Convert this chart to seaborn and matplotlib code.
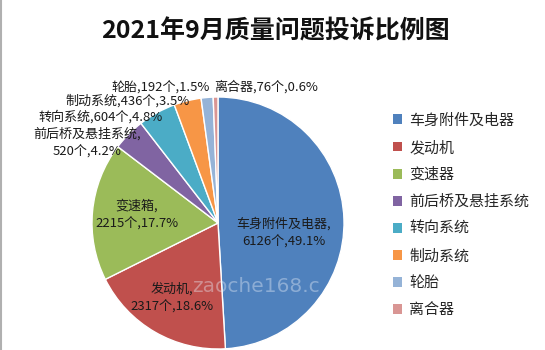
import matplotlib
matplotlib.use("Agg")
import matplotlib.pyplot as plt
import seaborn as sns
from matplotlib.patches import Patch

# ---- data ----
legend_names = ["车身附件及电器", "发动机", "变速器", "前后桥及悬挂系统", "转向系统", "制动系统", "轮胎", "离合器"]
slice_names = ["车身附件及电器", "发动机", "变速箱", "前后桥及悬挂系统", "转向系统", "制动系统", "轮胎", "离合器"]
counts = [6126, 2317, 2215, 520, 604, 436, 192, 76]
title = "2021年9月质量问题投诉比例图"

colors = ["#4F81BD", "#C0504D", "#9BBB59", "#8064A2", "#4BACC6", "#F79646", "#95B3D7", "#D99694"]

sns.set_theme(style="white")
plt.rcParams['font.family'] = ['Noto Sans CJK SC', 'DejaVu Sans']

W, H = 545, 350
fig = plt.figure(figsize=(W / 100, H / 100), dpi=100)
fig.patch.set_facecolor("white")

# pie axes: center (218,223) px, radius 126 px
cx, cy, r = 218, 223, 126
ax = fig.add_axes([(cx - r) / W, (H - cy - r) / H, 2 * r / W, 2 * r / H])
palette = sns.color_palette(colors)
wedges, _ = ax.pie(counts, colors=palette, startangle=90, counterclock=False,
                   wedgeprops=dict(edgecolor="white", linewidth=1.0))
ax.set_xlim(-1, 1)
ax.set_ylim(-1, 1)
ax.set_aspect("equal")
ax.axis("off")
for w in wedges:
    w.set_clip_on(False)

total = sum(counts)
pcts = [c / total * 100 for c in counts]

def px(x, y):
    return x / W, 1 - y / H

# watermark (starts right after the engine label)
fx, fy = px(192, 286)
fig.text(fx, fy, "zaoche168.c", ha="left", va="center", fontsize=14.5,
         color="#e8eef8", alpha=0.4, family=["DejaVu Sans"])

# label layout: (x_px, y_px, two_line)
label_pos = [(284, 232, True), (172, 297, True), (137, 214, True), (87, 142, True),
             (101, 117, False), (128, 101, False), (161, 87, False), (266, 87, False)]
line_gap = 17
for name, c, p, (lx, ly, two) in zip(slice_names, counts, pcts, label_pos):
    if two:
        lines = [f"{name},", f"{c}个,{p:.1f}%"]
    else:
        lines = [f"{name},{c}个,{p:.1f}%"]
    n = len(lines)
    for i, line in enumerate(lines):
        yy = ly + (i - (n - 1) / 2) * line_gap
        fx, fy = px(lx, yy)
        fig.text(fx, fy, line, ha="center", va="center", fontsize=9.4,
                 color="#1a1a1a")

# title
fx, fy = px(275, 31)
fig.text(fx, fy, title, ha="center", va="center", fontsize=18,
         fontweight="bold", color="#111111")

# legend
handles = [Patch(facecolor=c, edgecolor="none") for c in palette]
fx, fy = px(393, 113)
fig.legend(handles, legend_names, loc="upper left", bbox_to_anchor=(fx, fy),
           frameon=False, fontsize=10.8, handlelength=0.6, handleheight=0.6,
           handletextpad=0.5, labelspacing=0.86, borderpad=0, borderaxespad=0)

# left border line
fig.add_artist(plt.Line2D([0.002, 0.002], [0, 1], color="#b0b0b0", linewidth=1.5,
                          transform=fig.transFigure))

fig.savefig("out.png", dpi=100)
